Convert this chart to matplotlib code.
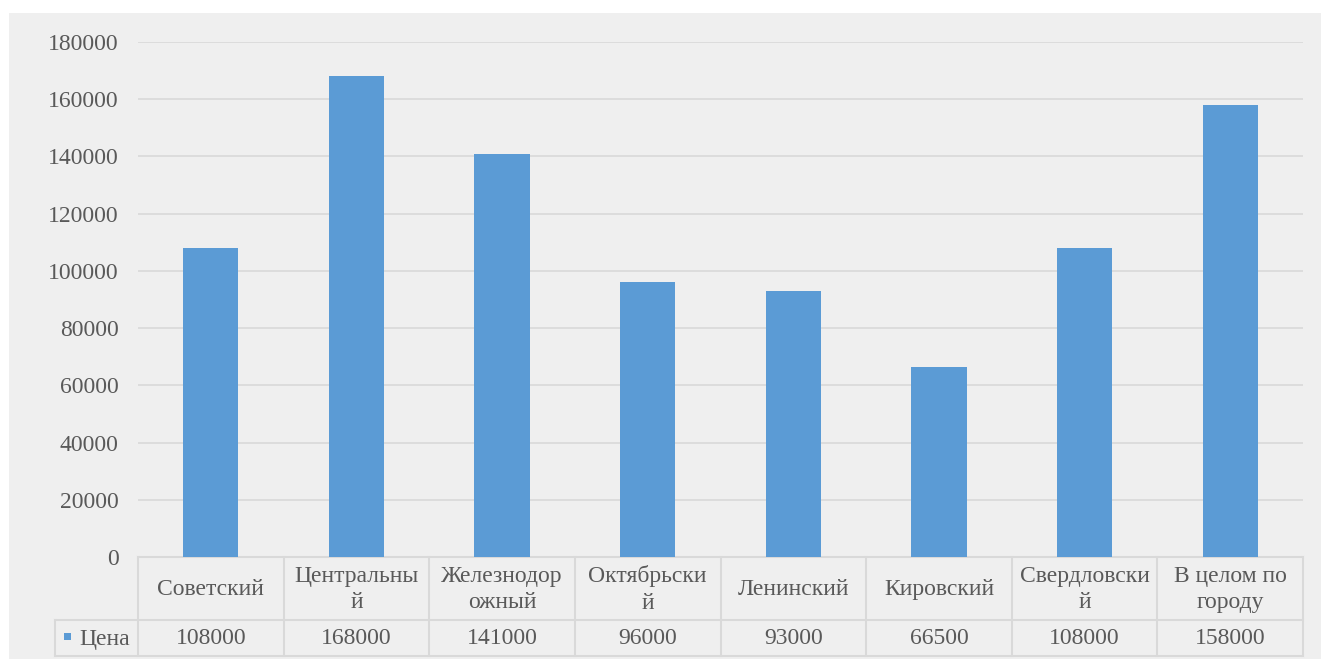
import matplotlib.pyplot as plt
import matplotlib.patches as mpatches
import numpy as np

# данные
districts = ['Советский', 'Центральны\nй', 'Железнодор\nожный', 'Октябрьски\nй',
             'Ленинский', 'Кировский', 'Свердловски\nй', 'В целом по\nгороду']
price = [108000, 168000, 141000, 96000, 93000, 66500, 108000, 158000]
series_name = 'Цена'
yticks = [0, 20000, 40000, 60000, 80000, 100000, 120000, 140000, 160000, 180000]

W, H = 1321, 659
bar_color = '#5B9BD5'
text_color = '#595959'
line_color = '#D9D9D9'
bg_color = '#EFEFEF'
fs = 17

plt.rcParams['font.family'] = ['Liberation Serif', 'DejaVu Serif']

fig = plt.figure(figsize=(W / 100, H / 100), dpi=100)
fig.patch.set_facecolor('white')


def fx(x):
    return x / W


def fy(y):
    return 1 - y / H


# серый фон диаграммы
fig.patches.append(mpatches.Rectangle((fx(9), 0), 1 - fx(9), fy(13), transform=fig.transFigure,
                                      facecolor=bg_color, edgecolor='none', zorder=-5))

x0, x1, y0, y1 = 138, 1303, 557, 42
ax = fig.add_axes([fx(x0), fy(y0), fx(x1) - fx(x0), fy(y1) - fy(y0)])
ax.set_facecolor('none')
ax.set_zorder(2)

n = len(districts)
pos = np.arange(n)
ax.bar(pos, price, width=0.38, color=bar_color, zorder=3)
ax.set_xlim(-0.5, n - 0.5)
ax.set_ylim(0, 180000)
ax.set_yticks(yticks)
ax.set_yticklabels([str(v) for v in yticks], fontsize=fs, color=text_color)
ax.tick_params(axis='y', length=0, pad=14)
ax.set_xticks([])
ax.grid(axis='y', color=line_color, linewidth=1.2, zorder=0)
for s in ax.spines.values():
    s.set_visible(False)

# таблица данных под осью
cell_w = (x1 - x0) / n
row1, row2, row3 = 557, 620, 656
leg_x = 55


def hline(y, xa, xb):
    fig.add_artist(plt.Line2D([fx(xa), fx(xb)], [fy(y), fy(y)], color=line_color, linewidth=1.5))


def vline(x, ya, yb):
    fig.add_artist(plt.Line2D([fx(x), fx(x)], [fy(ya), fy(yb)], color=line_color, linewidth=1.5))


hline(row1, x0, x1)
hline(row2, leg_x, x1)
hline(row3, leg_x, x1)
vline(leg_x, row2, row3)
for k in range(n + 1):
    vline(x0 + k * cell_w, row1, row3)

for k, (name, val) in enumerate(zip(districts, price)):
    cx = x0 + (k + 0.5) * cell_w
    fig.text(fx(cx), fy((row1 + row2) / 2 + 1), name, ha='center', va='center',
             fontsize=fs, color=text_color, linespacing=1.35)
    fig.text(fx(cx), fy((row2 + row3) / 2 + 1), str(val), ha='center', va='center',
             fontsize=fs, color=text_color)

# легенда в таблице
fig.patches.append(mpatches.Rectangle((fx(64), fy(640)), fx(7), fx(7) * W / H,
                                      transform=fig.transFigure, facecolor=bar_color, edgecolor='none'))
fig.text(fx(79), fy((row2 + row3) / 2 + 1), series_name, ha='left', va='center',
         fontsize=fs, color=text_color)

fig.savefig('out.png', dpi=100)
